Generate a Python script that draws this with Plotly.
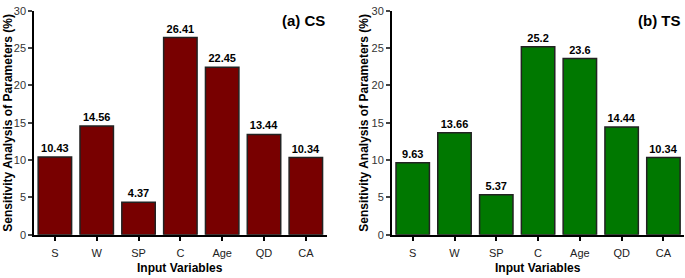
import plotly.graph_objects as go

categories = ["S", "W", "SP", "C", "Age", "QD", "CA"]
cs_values = [10.43, 14.56, 4.37, 26.41, 22.45, 13.44, 10.34]
ts_values = [9.63, 13.66, 5.37, 25.2, 23.6, 14.44, 10.34]
cs_labels = ["10.43", "14.56", "4.37", "26.41", "22.45", "13.44", "10.34"]
ts_labels = ["9.63", "13.66", "5.37", "25.2", "23.6", "14.44", "10.34"]
y_ticks = [0, 5, 10, 15, 20, 25, 30]

FONT = "Liberation Sans, Arial, sans-serif"

fig = go.Figure()
fig.add_trace(go.Bar(
    x=categories, y=cs_values, text=cs_labels, textposition="outside",
    marker=dict(color="#780000", line=dict(color="#222222", width=1.5)),
    width=0.8, xaxis="x", yaxis="y", cliponaxis=False,
    textfont=dict(family=FONT, size=11, color="black", weight="bold"),
    hoverinfo="skip"))
fig.add_trace(go.Bar(
    x=categories, y=ts_values, text=ts_labels, textposition="outside",
    marker=dict(color="#007800", line=dict(color="#222222", width=1.5)),
    width=0.8, xaxis="x2", yaxis="y2", cliponaxis=False,
    textfont=dict(family=FONT, size=11, color="black", weight="bold"),
    hoverinfo="skip"))

ydom = [0.140, 0.982]
common_y = dict(range=[0, 30], tickvals=y_ticks, ticks="outside", ticklen=4,
                tickwidth=1.5, showline=True, linecolor="black", linewidth=1.5,
                showgrid=False, zeroline=False, ticklabeloverflow="allow",
                tickfont=dict(family=FONT, size=11, color="#333333"), domain=ydom)
common_x = dict(showline=True, linecolor="black", linewidth=1.5, showgrid=False,
                ticks="outside", ticklen=4, tickwidth=1.5, tickcolor="black",
                range=[-0.5, 6.5], ticklabelstandoff=3,
                tickfont=dict(family=FONT, size=11, color="#222222"))

fig.update_layout(
    width=685, height=278,
    margin=dict(l=0, r=0, t=0, b=0),
    paper_bgcolor="white", plot_bgcolor="white",
    showlegend=False,
    xaxis=dict(domain=[0.0496, 0.477], anchor="y", **common_x),
    yaxis=dict(anchor="x", **common_y),
    xaxis2=dict(domain=[0.572, 0.999], anchor="y2", **common_x),
    yaxis2=dict(anchor="x2", **common_y),
)

ann_font = dict(family=FONT, size=12, color="black", weight="bold")
title_font = dict(family=FONT, size=15, color="black", weight="bold")
ytitle = "Sensitivity Analysis of Parameters (%)"
annotations = [
    dict(text="(a) CS", x=327 / 685, y=(278 - 15) / 278, xref="paper", yref="paper",
         xanchor="right", yanchor="middle", showarrow=False, font=title_font),
    dict(text="(b) TS", x=683 / 685, y=(278 - 15) / 278, xref="paper", yref="paper",
         xanchor="right", yanchor="middle", showarrow=False, font=title_font),
    dict(text="Input Variables", x=180 / 685, y=(278 - 273.5) / 278, xref="paper", yref="paper",
         xanchor="center", yanchor="middle", showarrow=False, font=ann_font),
    dict(text="Input Variables", x=538 / 685, y=(278 - 273.5) / 278, xref="paper", yref="paper",
         xanchor="center", yanchor="middle", showarrow=False, font=ann_font),
    dict(text=ytitle, x=8 / 685, y=(278 - 122) / 278,
         xref="paper", yref="paper", xanchor="center", yanchor="middle",
         showarrow=False, textangle=-90, font=ann_font),
    dict(text=ytitle, x=364 / 685, y=(278 - 122) / 278,
         xref="paper", yref="paper", xanchor="center", yanchor="middle",
         showarrow=False, textangle=-90, font=ann_font),
]
fig.update_layout(annotations=annotations)

fig.write_html("out.html", config={"displayModeBar": False},
               post_script="document.body.style.margin='0';document.body.style.overflow='hidden';")
